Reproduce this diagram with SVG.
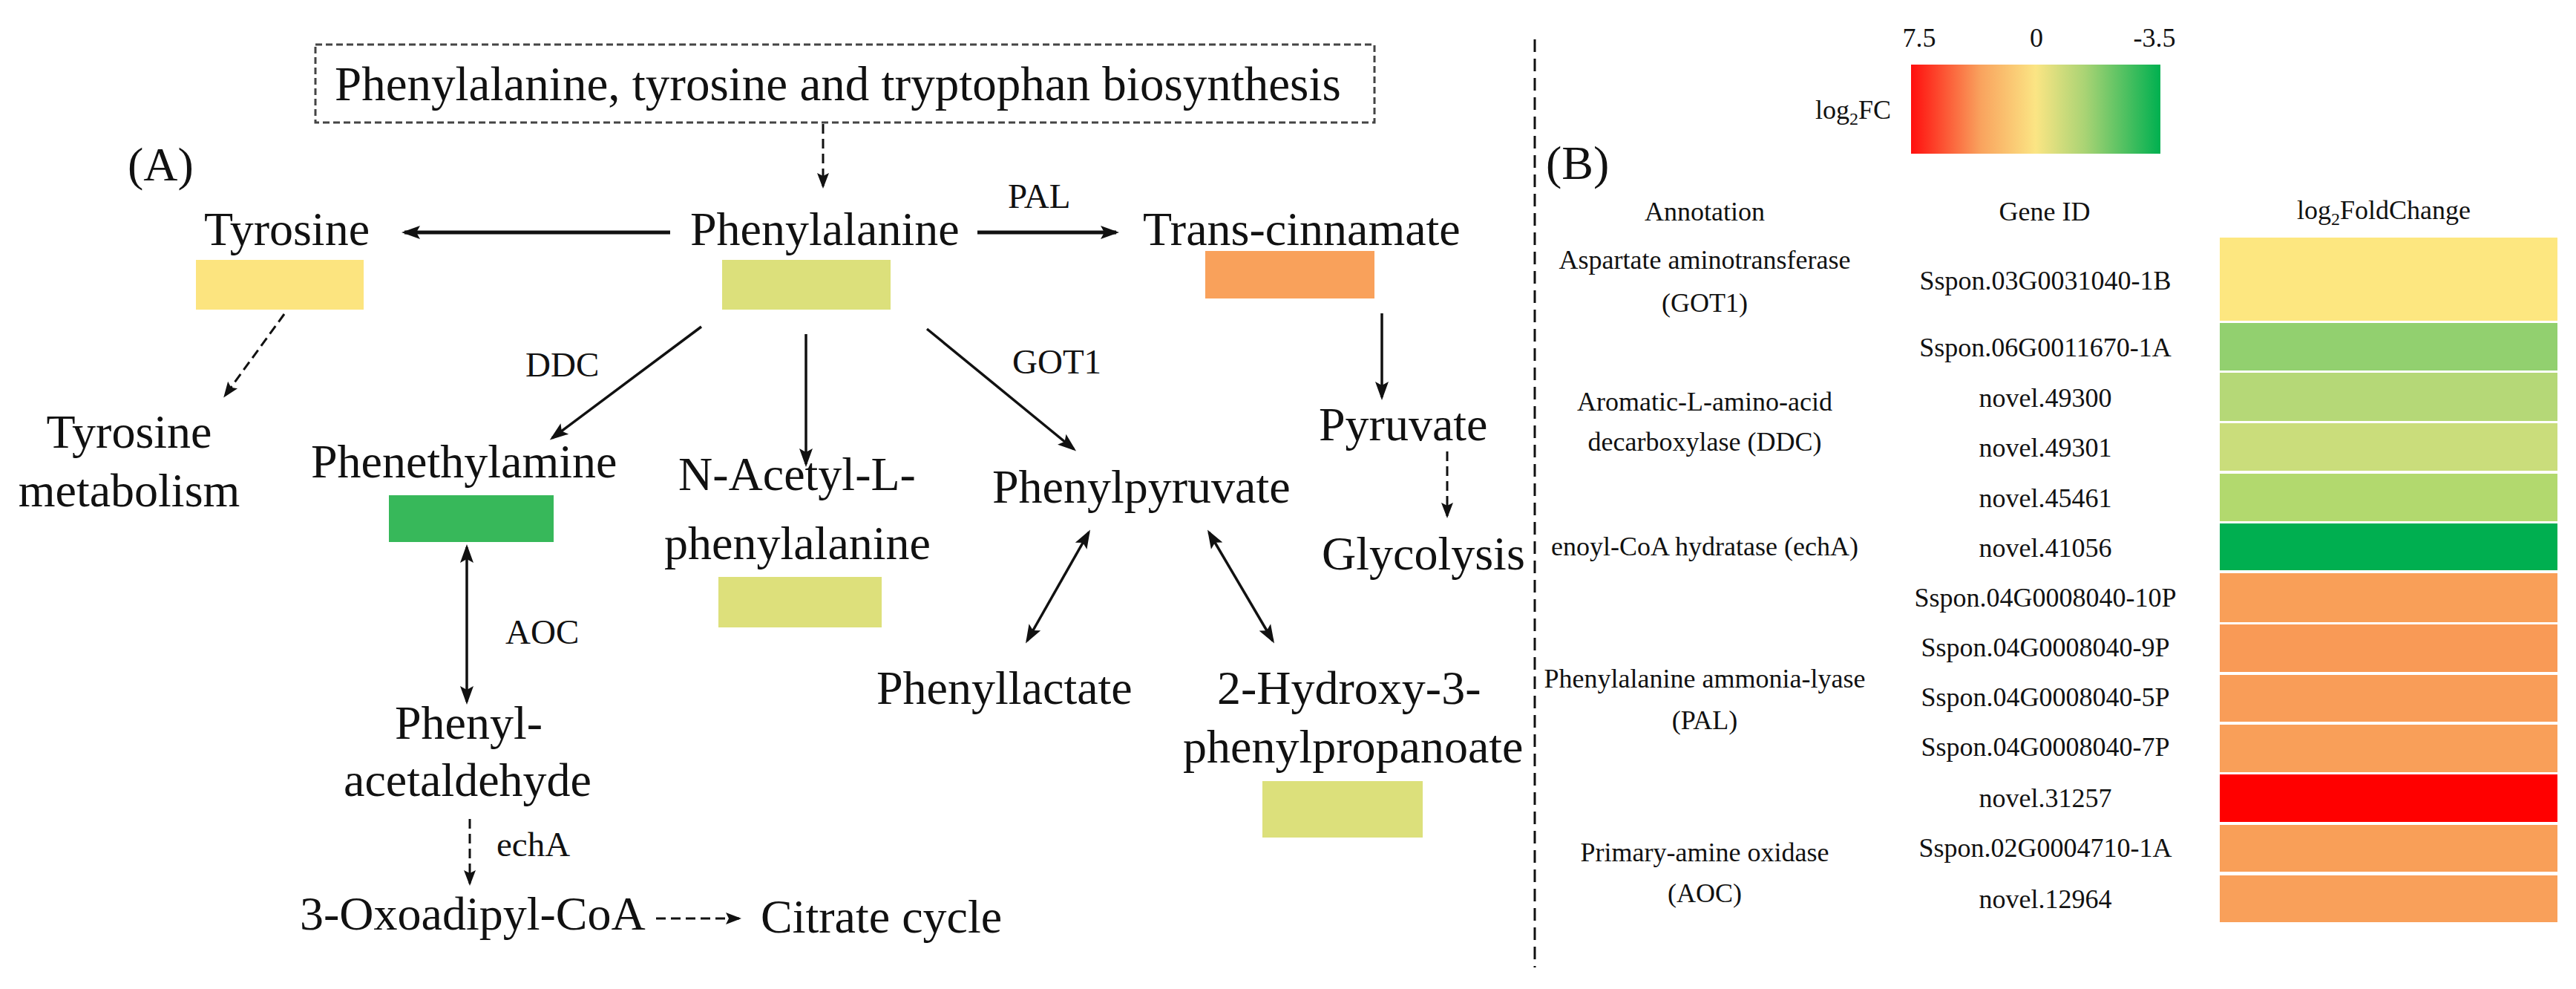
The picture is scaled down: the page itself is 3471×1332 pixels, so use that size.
<svg xmlns="http://www.w3.org/2000/svg" width="3471" height="1332" viewBox="0 0 3471 1332">
<style>
text{font-family:"Liberation Serif","Times New Roman",serif;fill:#111}
.lbl{font-size:64px}
.enz{font-size:47px}
.b{font-size:36px}
.sol{stroke:#111;stroke-width:5;fill:none}
.sol3{stroke:#111;stroke-width:3.5;fill:none}
.dsh{stroke:#111;stroke-width:3;fill:none;stroke-dasharray:13 7}
</style>
<defs>
<marker id="ah" markerUnits="userSpaceOnUse" markerWidth="26" markerHeight="20" refX="21" refY="10" orient="auto-start-reverse">
<path d="M0,1 L25,10 L0,19 L5,10 z" fill="#111"/>
</marker>
<marker id="ahs" markerUnits="userSpaceOnUse" markerWidth="22" markerHeight="18" refX="18" refY="9" orient="auto-start-reverse">
<path d="M0,1 L21,9 L0,17 L4,9 z" fill="#111"/>
</marker>
<linearGradient id="lg" x1="0" y1="0" x2="1" y2="0">
<stop offset="0" stop-color="#FF0E0E"/>
<stop offset="0.28" stop-color="#F9A35E"/>
<stop offset="0.5" stop-color="#FBE584"/>
<stop offset="0.7" stop-color="#A8D374"/>
<stop offset="1" stop-color="#00B050"/>
</linearGradient>
</defs>
<rect width="3471" height="1332" fill="#fff"/>

<g id="pathway-box">
<rect x="425" y="60" width="1427" height="105" fill="none" stroke="#444" stroke-width="3" stroke-dasharray="9 5"/>
<text x="451" y="135" style="font-size:65px">Phenylalanine, tyrosine and tryptophan biosynthesis</text>
</g>
<g id="label-A"><text class="lbl" x="172" y="243">(A)</text></g>
<g id="label-B"><text class="lbl" x="2083" y="241">(B)</text></g>

<g id="tyrosine">
<text class="lbl" x="275" y="330">Tyrosine</text>
<rect x="264" y="350" width="226" height="67" fill="#FCE47F"/>
</g>
<g id="phenylalanine">
<text class="lbl" x="930" y="330">Phenylalanine</text>
<rect x="973" y="350" width="227" height="67" fill="#DCE07B"/>
</g>
<g id="trans-cinnamate">
<text class="lbl" x="1540" y="330">Trans-cinnamate</text>
<rect x="1624" y="338" width="228" height="64" fill="#F9A15B"/>
</g>
<g id="tyrosine-metabolism">
<text class="lbl" x="174" y="603" text-anchor="middle">Tyrosine</text>
<text class="lbl" x="174" y="682" text-anchor="middle">metabolism</text>
</g>
<g id="phenethylamine">
<text class="lbl" x="419" y="643">Phenethylamine</text>
<rect x="524" y="667" width="222" height="63" fill="#37B85A"/>
</g>
<g id="n-acetyl">
<text class="lbl" x="914" y="660">N-Acetyl-L-</text>
<text class="lbl" x="895" y="753">phenylalanine</text>
<rect x="968" y="777" width="220" height="68" fill="#DDE07B"/>
</g>
<g id="phenylpyruvate"><text class="lbl" x="1337" y="677">Phenylpyruvate</text></g>
<g id="pyruvate"><text class="lbl" x="1777" y="593">Pyruvate</text></g>
<g id="glycolysis"><text class="lbl" x="1781" y="767">Glycolysis</text></g>
<g id="phenyllactate"><text class="lbl" x="1181" y="948">Phenyllactate</text></g>
<g id="hydroxy">
<text class="lbl" x="1640" y="948">2-Hydroxy-3-</text>
<text class="lbl" x="1594" y="1027">phenylpropanoate</text>
<rect x="1701" y="1052" width="216" height="76" fill="#DCE07B"/>
</g>
<g id="phenylacetaldehyde">
<text class="lbl" x="532" y="995">Phenyl-</text>
<text class="lbl" x="463" y="1072">acetaldehyde</text>
</g>
<g id="oxoadipyl"><text class="lbl" x="404" y="1252">3-Oxoadipyl-CoA</text></g>
<g id="citrate"><text class="lbl" x="1025" y="1256">Citrate cycle</text></g>

<g id="connectors">
<line class="dsh" x1="1109" y1="167" x2="1109" y2="251" marker-end="url(#ahs)"/>
<line class="sol" x1="903" y1="313" x2="545" y2="313" marker-end="url(#ah)"/>
<line class="sol" x1="1317" y1="313" x2="1504" y2="313" marker-end="url(#ah)"/>
<line class="dsh" x1="383" y1="423" x2="303" y2="533" marker-end="url(#ahs)"/>
<line class="sol3" x1="945" y1="440" x2="744" y2="590" marker-end="url(#ah)"/>
<line class="sol3" x1="1086" y1="450" x2="1086" y2="625" marker-end="url(#ah)"/>
<line class="sol3" x1="1249" y1="443" x2="1447" y2="605" marker-end="url(#ah)"/>
<line class="sol3" x1="1862" y1="422" x2="1862" y2="535" marker-end="url(#ah)"/>
<line class="dsh" x1="1950" y1="608" x2="1950" y2="695" marker-end="url(#ahs)"/>
<line class="sol3" x1="629" y1="737" x2="629" y2="945" marker-start="url(#ah)" marker-end="url(#ah)"/>
<line class="sol3" x1="1467" y1="717" x2="1384" y2="863" marker-start="url(#ah)" marker-end="url(#ah)"/>
<line class="sol3" x1="1629" y1="717" x2="1715" y2="863" marker-start="url(#ah)" marker-end="url(#ah)"/>
<line class="dsh" x1="633" y1="1103" x2="633" y2="1190" stroke-width="2.5" marker-end="url(#ahs)"/>
<line class="dsh" x1="884" y1="1237" x2="996" y2="1237" stroke-width="2.5" marker-end="url(#ahs)"/>
<line x1="2068" y1="53" x2="2068" y2="1303" stroke="#111" stroke-width="3" stroke-dasharray="17 9"/>
</g>

<g id="enzyme-labels">
<text class="enz" x="1358" y="280">PAL</text>
<text class="enz" x="708" y="507">DDC</text>
<text class="enz" x="1364" y="503">GOT1</text>
<text class="enz" x="681" y="867">AOC</text>
<text class="enz" x="669" y="1153">echA</text>
</g>

<g id="legend">
<rect x="2575" y="87" width="336" height="120" fill="url(#lg)"/>
<text class="b" x="2586" y="63" text-anchor="middle">7.5</text>
<text class="b" x="2744" y="63" text-anchor="middle">0</text>
<text class="b" x="2903" y="63" text-anchor="middle">-3.5</text>
<text class="b" x="2446" y="160">log<tspan dy="8" font-size="24">2</tspan><tspan dy="-8">FC</tspan></text>
</g>

<g id="table-headers">
<text class="b" x="2297" y="297" text-anchor="middle">Annotation</text>
<text class="b" x="2755" y="297" text-anchor="middle">Gene ID</text>
<text class="b" x="3095" y="295">log<tspan dy="8" font-size="24">2</tspan><tspan dy="-8">FoldChange</tspan></text>
</g>

<g id="annotations">
<text class="b" x="2297" y="362" text-anchor="middle">Aspartate aminotransferase</text>
<text class="b" x="2297" y="420" text-anchor="middle">(GOT1)</text>
<text class="b" x="2297" y="553" text-anchor="middle">Aromatic-L-amino-acid</text>
<text class="b" x="2297" y="607" text-anchor="middle">decarboxylase (DDC)</text>
<text class="b" x="2297" y="748" text-anchor="middle">enoyl-CoA hydratase (echA)</text>
<text class="b" x="2297" y="926" text-anchor="middle">Phenylalanine ammonia-lyase</text>
<text class="b" x="2297" y="982" text-anchor="middle">(PAL)</text>
<text class="b" x="2297" y="1160" text-anchor="middle">Primary-amine oxidase</text>
<text class="b" x="2297" y="1215" text-anchor="middle">(AOC)</text>
</g>

<g id="gene-ids">
<text class="b" x="2756" y="390" text-anchor="middle">Sspon.03G0031040-1B</text>
<text class="b" x="2756" y="480" text-anchor="middle">Sspon.06G0011670-1A</text>
<text class="b" x="2756" y="548" text-anchor="middle">novel.49300</text>
<text class="b" x="2756" y="615" text-anchor="middle">novel.49301</text>
<text class="b" x="2756" y="683" text-anchor="middle">novel.45461</text>
<text class="b" x="2756" y="750" text-anchor="middle">novel.41056</text>
<text class="b" x="2756" y="817" text-anchor="middle">Sspon.04G0008040-10P</text>
<text class="b" x="2756" y="884" text-anchor="middle">Sspon.04G0008040-9P</text>
<text class="b" x="2756" y="951" text-anchor="middle">Sspon.04G0008040-5P</text>
<text class="b" x="2756" y="1018" text-anchor="middle">Sspon.04G0008040-7P</text>
<text class="b" x="2756" y="1087" text-anchor="middle">novel.31257</text>
<text class="b" x="2756" y="1154" text-anchor="middle">Sspon.02G0004710-1A</text>
<text class="b" x="2756" y="1223" text-anchor="middle">novel.12964</text>
</g>

<g id="heatmap">
<rect x="2991" y="320" width="455" height="112" fill="#FDE780"/>
<rect x="2991" y="435" width="455" height="64" fill="#92D06F"/>
<rect x="2991" y="502" width="455" height="65" fill="#B5D877"/>
<rect x="2991" y="570" width="455" height="64" fill="#CADD7B"/>
<rect x="2991" y="638" width="455" height="64" fill="#B2D96E"/>
<rect x="2991" y="705" width="455" height="63" fill="#00AF50"/>
<rect x="2991" y="772" width="455" height="66" fill="#F99F58"/>
<rect x="2991" y="841" width="455" height="64" fill="#F99A56"/>
<rect x="2991" y="909" width="455" height="63" fill="#F99D58"/>
<rect x="2991" y="976" width="455" height="64" fill="#F99F59"/>
<rect x="2991" y="1043" width="455" height="64" fill="#FF0000"/>
<rect x="2991" y="1111" width="455" height="63" fill="#F99F58"/>
<rect x="2991" y="1179" width="455" height="63" fill="#F9A05A"/>
</g>
</svg>
